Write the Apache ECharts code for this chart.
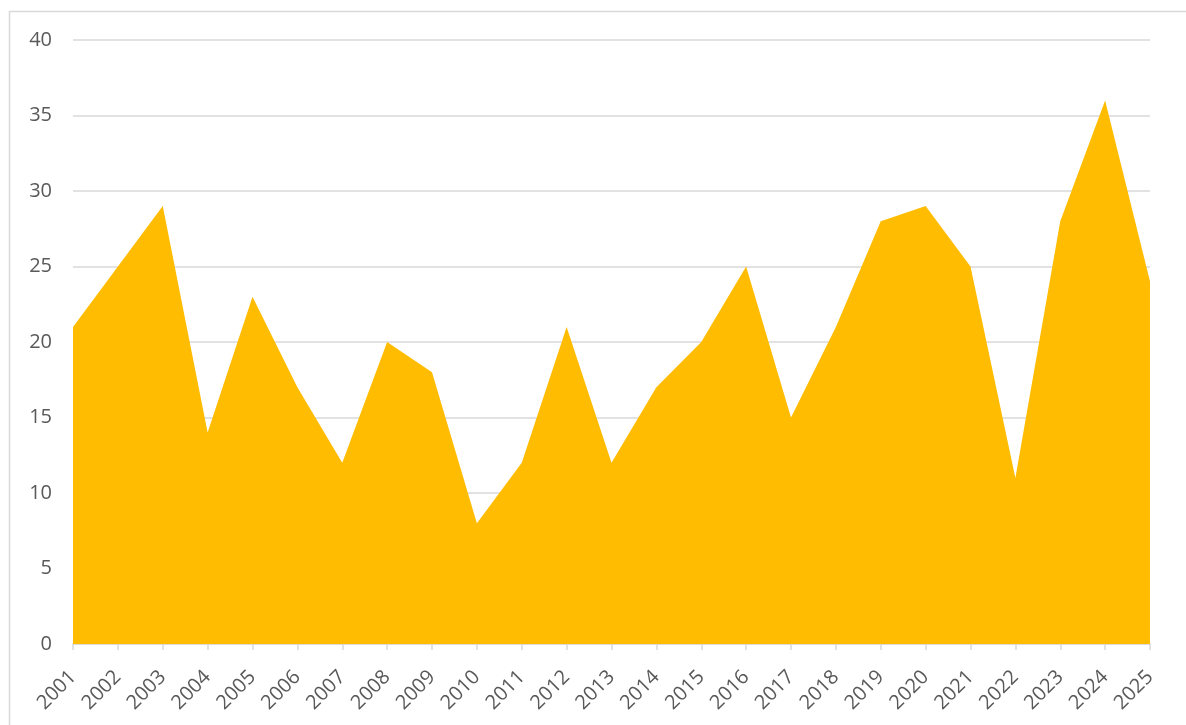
<!DOCTYPE html>
<html>
<head>
<meta charset="utf-8">
<script src="https://cdn.jsdelivr.net/npm/echarts@6/dist/echarts.min.js"></script>
<style>
  html, body { margin: 0; padding: 0; background: #fff; }
  #chart { width: 1186px; height: 725px; }
</style>
</head>
<body>
<div id="chart"></div>
<script>
const years = [
  "2001", "2002", "2003", "2004", "2005", "2006", "2007", "2008", "2009", "2010",
  "2011", "2012", "2013", "2014", "2015", "2016", "2017", "2018", "2019", "2020",
  "2021", "2022", "2023", "2024", "2025"
];
const values = [21, 25, 29, 14, 23, 17, 12, 20, 18, 8, 12, 21, 12, 17, 20, 25, 15, 21, 28, 29, 25, 11, 28, 36, 24];

const labelFont = "'Open Sans', sans-serif";

const option = {
  animation: false,
  graphic: [
    {
      type: "rect",
      shape: { x: 9.5, y: 11.5, width: 1300, height: 900 },
      style: { fill: "none", stroke: "#d9d9d9", lineWidth: 1.5 },
      silent: true
    }
  ],
  grid: {
    left: 73,
    right: 36,
    top: 40,
    bottom: 81
  },
  xAxis: {
    type: "category",
    data: years,
    boundaryGap: false,
    axisLine: { show: true, lineStyle: { color: "#d9d9d9", width: 1.5 } },
    axisTick: { show: true, length: 6, lineStyle: { color: "#d9d9d9", width: 1.5 } },
    axisLabel: {
      interval: 0,
      rotate: 45,
      color: "#595959",
      fontSize: 20,
      fontFamily: labelFont,
      margin: 30
    },
    splitLine: { show: false }
  },
  yAxis: {
    type: "value",
    min: 0,
    max: 40,
    interval: 5,
    axisLine: { show: false },
    axisTick: { show: false },
    axisLabel: {
      color: "#595959",
      fontSize: 20,
      fontFamily: labelFont,
      margin: 21
    },
    splitLine: { lineStyle: { color: "#d9d9d9", width: 1.5 } }
  },
  series: [
    {
      type: "line",
      data: values,
      symbol: "none",
      lineStyle: { width: 0 },
      areaStyle: { color: "#ffbc00", opacity: 1 },
      itemStyle: { color: "#ffbc00" }
    }
  ]
};

const chart = echarts.init(document.getElementById("chart"));
chart.setOption(option);
</script>
</body>
</html>
